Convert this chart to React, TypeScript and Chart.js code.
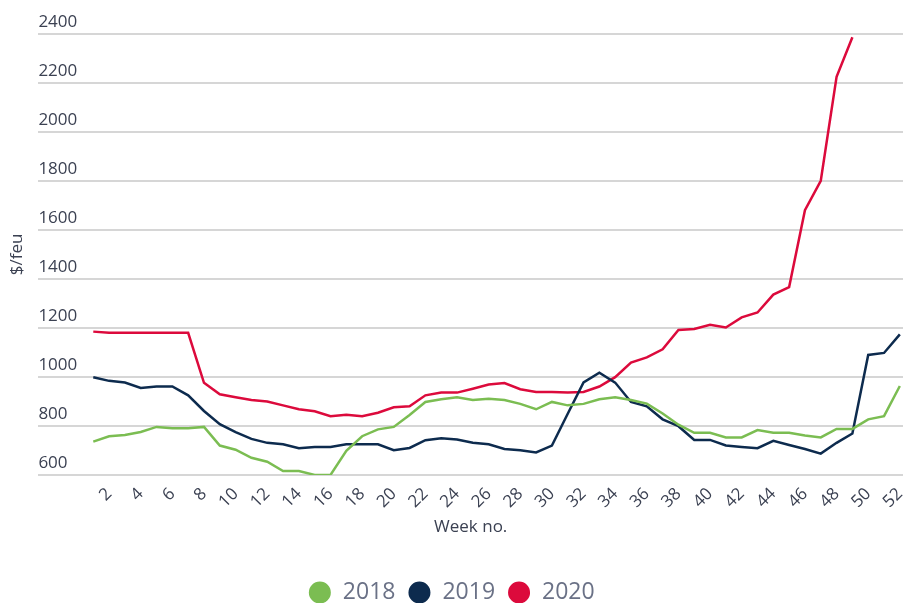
import React, { useEffect, useRef } from 'react';
import { Chart, registerables } from 'chart.js';

Chart.register(...registerables);

const weeks = [1, 2, 3, 4, 5, 6, 7, 8, 9, 10, 11, 12, 13, 14, 15, 16, 17, 18, 19, 20, 21, 22, 23, 24, 25, 26, 27, 28, 29, 30, 31, 32, 33, 34, 35, 36, 37, 38, 39, 40, 41, 42, 43, 44, 45, 46, 47, 48, 49, 50, 51, 52];
const weekTicks = [2, 4, 6, 8, 10, 12, 14, 16, 18, 20, 22, 24, 26, 28, 30, 32, 34, 36, 38, 40, 42, 44, 46, 48, 50, 52];
const yTicks = [600, 800, 1000, 1200, 1400, 1600, 1800, 2000, 2200, 2400];

const rates2018 = [736, 758, 763, 775, 796, 791, 791, 796, 720, 703, 670, 654, 616, 616, 600, 600, 698, 758, 786, 796, 845, 898, 909, 917, 906, 911, 906, 890, 868, 898, 884, 890, 909, 917, 906, 891, 851, 805, 772, 772, 753, 753, 783, 772, 772, 761, 753, 788, 788, 827, 840, 963];
const rates2019 = [999, 984, 977, 955, 961, 961, 925, 861, 807, 775, 747, 731, 725, 709, 714, 714, 725, 725, 725, 701, 710, 742, 750, 745, 731, 725, 706, 701, 692, 720, 850, 978, 1017, 977, 898, 880, 827, 799, 743, 743, 720, 714, 709, 739, 722, 706, 687, 731, 769, 1090, 1098, 1174];
const rates2020 = [1185, 1180, 1180, 1180, 1180, 1180, 1180, 976, 929, 917, 906, 900, 884, 868, 860, 840, 846, 840, 854, 876, 880, 925, 936, 936, 952, 969, 975, 950, 939, 939, 936, 939, 961, 999, 1059, 1080, 1113, 1192, 1196, 1213, 1202, 1243, 1263, 1336, 1367, 1681, 1801, 2225, 2387];

const seriesLabels = ['2018', '2019', '2020'];
const seriesColors = ['#7bbd52', '#0d2b4e', '#dc0a3c'];

const tickColor = '#3b4152';
const FONT = '"Open Sans", "Noto Sans", sans-serif';

export default function App() {
  const ref = useRef<HTMLCanvasElement>(null);

  useEffect(() => {
    const toPoints = (vals: number[]) => vals.map((v, i) => ({ x: weeks[i], y: v }));
    const allSeries = [rates2018, rates2019, rates2020];
    Chart.defaults.font.family = FONT;
    const chart = new Chart(ref.current as HTMLCanvasElement, {
      type: 'line',
      data: {
        datasets: allSeries.map((vals, i) => ({
          label: seriesLabels[i],
          data: toPoints(vals),
          borderColor: seriesColors[i],
          backgroundColor: seriesColors[i],
          borderWidth: 2.5,
          pointRadius: 0,
          tension: 0,
          fill: false,
        })),
      },
      options: {
        animation: false,
        responsive: false,
        layout: { padding: { top: 34, right: 0, bottom: -11, left: 0 } },
        plugins: {
          legend: {
            position: 'bottom',
            labels: {
              usePointStyle: true,
              pointStyle: 'circle',
              boxWidth: 23,
              boxHeight: 13.8,
              padding: 12.5,
              color: '#6a7186',
              font: { size: 23, family: FONT },
            },
          },
          tooltip: { enabled: false },
        },
        scales: {
          x: {
            type: 'linear',
            min: -2.47,
            max: 52.2,
            afterBuildTicks: (s: any) => {
              s.ticks = weekTicks.map((v) => ({ value: v }));
            },
            afterFit: (s: any) => {
              s.paddingRight = 0;
            },
            grid: { display: false, drawTicks: false },
            border: { display: false },
            ticks: {
              autoSkip: false,
              minRotation: 45,
              maxRotation: 45,
              padding: 9,
              color: tickColor,
              font: { size: 17, family: FONT },
              callback: (v: any) => String(v),
            },
            title: {
              display: true,
              text: 'Week no.',
              color: tickColor,
              font: { size: 17, family: FONT },
              padding: { top: -4, bottom: 31 },
            },
          },
          y: {
            min: 600,
            max: 2400,
            afterBuildTicks: (s: any) => {
              s.ticks = yTicks.map((v) => ({ value: v }));
            },
            grid: { color: '#d6d6d6', lineWidth: 2, drawTicks: false },
            border: { display: false },
            ticks: {
              mirror: true,
              padding: 0,
              labelOffset: -11.5,
              color: tickColor,
              font: { size: 17, family: FONT },
              callback: (v: any) => String(v),
            },
            title: {
              display: true,
              text: '$/feu',
              color: tickColor,
              font: { size: 17, family: FONT },
              padding: { top: 7, bottom: 11 },
            },
          },
        },
      },
    } as any);
    return () => chart.destroy();
  }, []);

  return (
    <div style={{ position: 'fixed', left: 0, top: 0, width: 903, height: 603, background: '#fff' }}>
      <canvas ref={ref} width={903} height={603} style={{ display: 'block' }} />
    </div>
  );
}
